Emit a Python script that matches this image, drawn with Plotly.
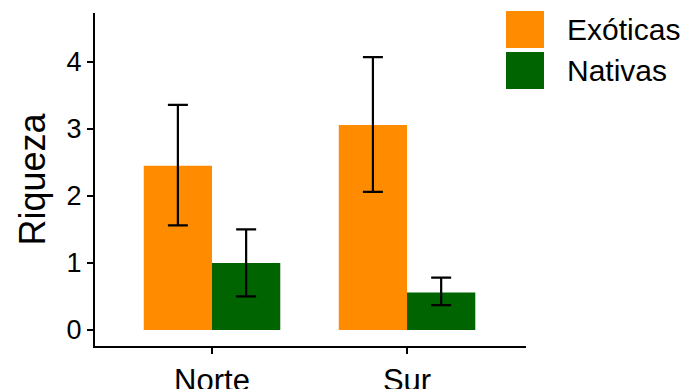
import plotly.graph_objects as go

sitios = ["Norte", "Sur"]
grupos = ["Exóticas", "Nativas"]
colores = ["#FF8C00", "#006400"]
media = {"Exóticas": [2.45, 3.06], "Nativas": [1.00, 0.56]}
inferior = {"Exóticas": [1.56, 2.06], "Nativas": [0.50, 0.37]}
superior = {"Exóticas": [3.36, 4.07], "Nativas": [1.50, 0.78]}
y_ticks = [0, 1, 2, 3, 4]

FONT = "Liberation Sans, Arial, sans-serif"

# page body has an 8px margin: figure coordinates = window coordinates - 8
OFF = 8
PL, PR, PT, PB = 95 - OFF, 526 - OFF, 13 - OFF, 346 - OFF
W, H = 689 - OFF, 389 - OFF
PW, PH = PR - PL, PB - PT

fig = go.Figure()
for g, c in zip(grupos, colores):
    m = media[g]
    fig.add_trace(go.Bar(
        x=sitios, y=m, name=g, marker=dict(color=c, line=dict(width=0)),
        error_y=dict(type="data", symmetric=False,
                     array=[s - v for s, v in zip(superior[g], m)],
                     arrayminus=[v - i for i, v in zip(inferior[g], m)],
                     color="black", thickness=2.2, width=10),
        showlegend=False,
    ))

# legend drawn manually (ggplot-like large keys)
leg_y = [(11, 48), (52, 89)]
for (y0, y1), g, c in zip(leg_y, grupos, colores):
    y0 -= OFF
    y1 -= OFF
    fig.add_shape(type="rect", xref="paper", yref="paper",
                  x0=(506 - OFF - PL) / PW, x1=(544 - OFF - PL) / PW,
                  y0=(PB - y1) / PH, y1=(PB - y0) / PH,
                  fillcolor=c, line=dict(width=0))
    fig.add_annotation(text=g, xref="paper", yref="paper",
                       x=(565 - OFF - PL) / PW, y=(PB - (y0 + y1) / 2) / PH,
                       xanchor="left", yanchor="middle", showarrow=False,
                       font=dict(family=FONT, size=30, color="black"))

fig.update_layout(
    width=W, height=H,
    margin=dict(l=PL, r=W - PR, t=PT, b=H - PB, autoexpand=False),
    paper_bgcolor="white", plot_bgcolor="white",
    barmode="group", bargap=0.3, bargroupgap=0,
    font=dict(family=FONT, color="black"),
)
fig.update_xaxes(
    range=[-0.6, 1.61], showline=True, linecolor="black", linewidth=2,
    ticks="outside", ticklen=6, tickwidth=2, tickcolor="black",
    tickfont=dict(size=31, color="black"), showgrid=False, zeroline=False,
)
fig.update_yaxes(
    range=[-0.24, 4.73], tickvals=y_ticks, showline=True, linecolor="black",
    linewidth=2, ticks="outside", ticklen=6, tickwidth=2, tickcolor="black",
    tickfont=dict(size=27, color="black"), showgrid=False, zeroline=False,
    title=dict(text="Riqueza", font=dict(size=36, color="black"), standoff=10),
)

fig.write_html("out.html")
